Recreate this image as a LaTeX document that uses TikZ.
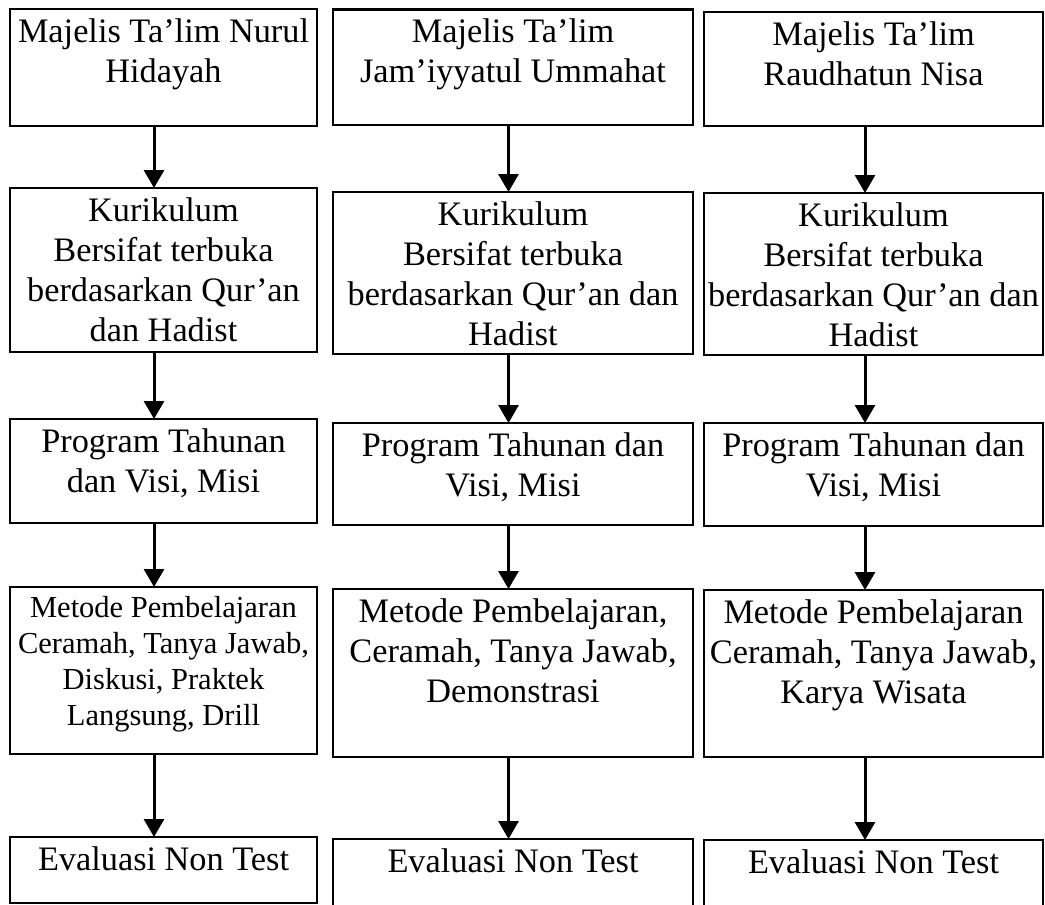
\documentclass[tikz,border=0pt]{standalone}
\usepackage{fontspec}
\setmainfont{Liberation Serif}
\usetikzlibrary{arrows.meta}
\tikzset{
  box/.style={draw, line width=2.2pt, outer sep=0pt, inner sep=0pt, anchor=north west},
  txt/.style={anchor=north, align=center, inner xsep=0pt, inner ysep=5pt, font=\fontsize{34.3}{40}\selectfont},
  smalltxt/.style={font=\fontsize{30.5}{36}\selectfont},
  arr/.style={line width=3pt, -{Triangle[width=20pt,length=18pt]}},
}
% [text options]{name}{x}{y}{w}{h}{text}
\newcommand\mkbox[7][]{%
  \node[box, minimum width=#5pt, minimum height=#6pt] (#2) at (#3pt,-#4pt) {};
  \node[txt, #1] (t#2) at (#2.north) {\strut #7};
}
\begin{document}
\begin{tikzpicture}
\useasboundingbox (0,0) rectangle (1045pt,-905pt);
% column 1
\mkbox{b11}{10}{9}{307}{117}{Majelis Ta’lim Nurul\\Hidayah}
\mkbox{b12}{10}{188}{307}{164}{Kurikulum\\Bersifat terbuka\\berdasarkan Qur’an\\dan Hadist}
\mkbox{b13}{10}{419}{307}{104}{Program Tahunan\\dan Visi, Misi}
\mkbox[smalltxt]{b14}{10}{587}{307}{167}{Metode Pembelajaran\\Ceramah, Tanya Jawab,\\Diskusi, Praktek\\Langsung, Drill}
\mkbox{b15}{10}{837}{307}{66}{Evaluasi Non Test}
% column 2
\mkbox{b21}{333}{9.5}{360}{115.5}{Majelis Ta’lim\\Jam’iyyatul Ummahat}
\mkbox{b22}{333}{192}{360}{162}{Kurikulum\\Bersifat terbuka\\berdasarkan Qur’an dan\\Hadist}
\mkbox{b23}{333}{423}{360}{102}{Program Tahunan dan\\Visi, Misi}
\mkbox{b24}{333}{589}{360}{168}{Metode Pembelajaran,\\Ceramah, Tanya Jawab,\\Demonstrasi}
\mkbox{b25}{333}{839}{360}{76}{Evaluasi Non Test}
% column 3
\mkbox{b31}{704}{12}{339}{114}{Majelis Ta’lim\\Raudhatun Nisa}
\mkbox{b32}{704}{193}{339}{162}{Kurikulum\\Bersifat terbuka\\berdasarkan Qur’an dan\\Hadist}
\mkbox{b33}{704}{423}{339}{103}{Program Tahunan dan\\Visi, Misi}
\mkbox{b34}{704}{590}{339}{167}{Metode Pembelajaran\\Ceramah, Tanya Jawab,\\Karya Wisata}
\mkbox{b35}{704}{840}{339}{75}{Evaluasi Non Test}
% arrow columns
\coordinate (c1) at (154pt,0);
\coordinate (c2) at (508.5pt,0);
\coordinate (c3) at (865pt,0);
\foreach \c in {1,2,3}{
  \draw[arr] (b\c1.south -| c\c) -- (b\c2.north -| c\c);
  \draw[arr] (b\c2.south -| c\c) -- (b\c3.north -| c\c);
  \draw[arr] (b\c3.south -| c\c) -- (b\c4.north -| c\c);
  \draw[arr] (b\c4.south -| c\c) -- (b\c5.north -| c\c);
}
\end{tikzpicture}
\end{document}
